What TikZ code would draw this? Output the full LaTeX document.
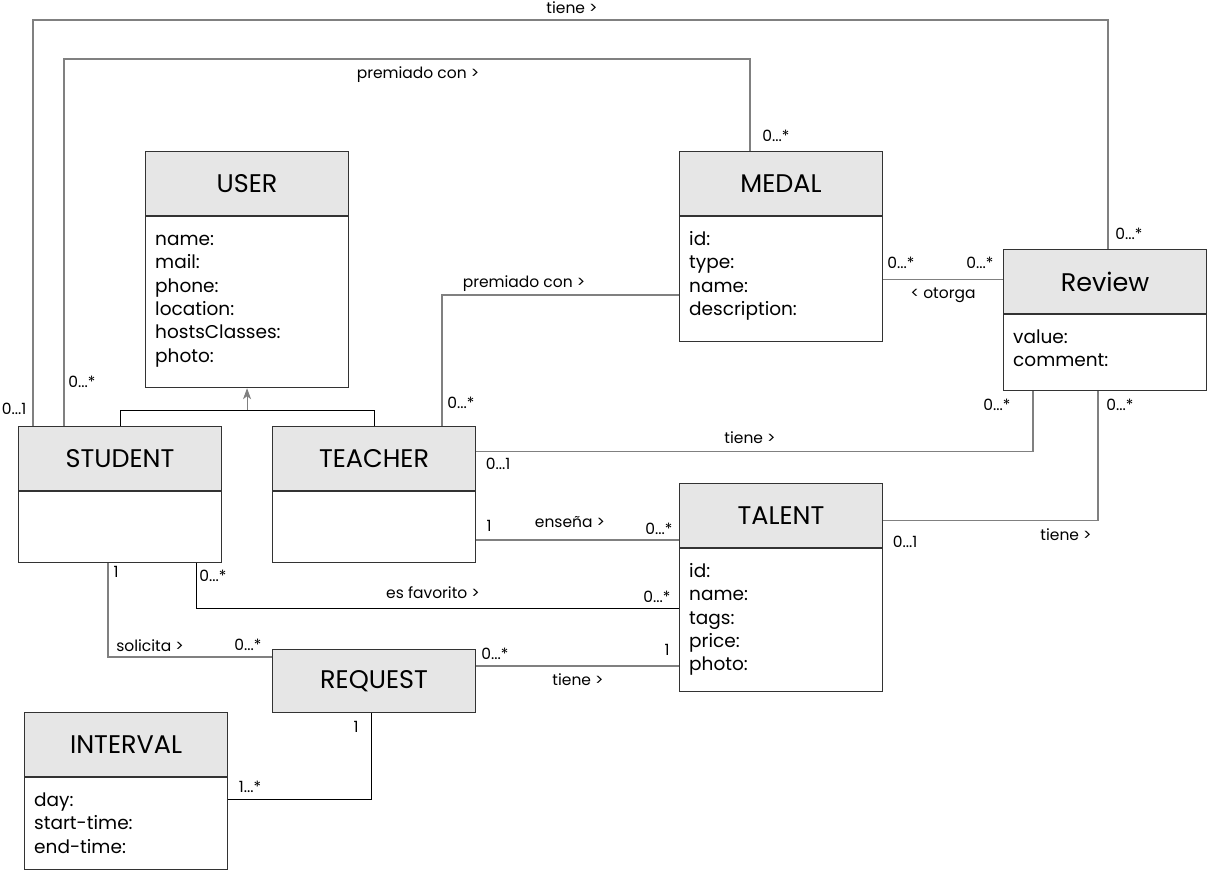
\documentclass[tikz,border=0pt]{standalone}
\usepackage{fontspec}
\setmainfont{Poppins}
\usetikzlibrary{arrows.meta,calc}
\definecolor{hdrc}{HTML}{E6E6E6}
\definecolor{bx}{HTML}{333333}
\definecolor{ln}{HTML}{808080}
\begin{document}
\begin{tikzpicture}[x=1pt,y=-1pt,
  hdr/.style={draw=bx, fill=hdrc, line width=1.1pt, minimum width=203pt, minimum height=64pt, inner sep=0pt, anchor=north west, font=\fontsize{25.5}{30}\selectfont},
  bodyb/.style={draw=bx, line width=1.1pt, minimum width=203pt, anchor=north, inner sep=0pt},
  attr/.style={anchor=north west, align=left, inner sep=0pt, font=\fontsize{18.5}{23.3}\selectfont},
  conn/.style={draw=ln, line width=1.4pt},
  blk/.style={draw=black, line width=1pt},
  lbl/.style={font=\fontsize{15.5}{18}\selectfont, inner sep=0pt},
]
\useasboundingbox (0,0) rectangle (1207,870);

% ---------- classes ----------
\node[hdr] (user) at (145,151) {USER};
\node[bodyb, minimum height=171pt] (userb) at (user.south) {};
\node[attr] (usera) at ($(userb.north west)+(10,13)$) {\strut name:\\mail:\\phone:\\location:\\hostsClasses:\\photo:};

\node[hdr] (medal) at (679,151) {MEDAL};
\node[bodyb, minimum height=125pt] (medalb) at (medal.south) {};
\node[attr] (medala) at ($(medalb.north west)+(10,13)$) {\strut id:\\type:\\name:\\description:};

\node[hdr] (review) at (1003,249) {Review};
\node[bodyb, minimum height=76pt] (reviewb) at (review.south) {};
\node[attr] (reviewa) at ($(reviewb.north west)+(10,13)$) {\strut value:\\comment:};

\node[hdr] (student) at (18,426) {STUDENT};
\node[bodyb, minimum height=71pt] (studentb) at (student.south) {};

\node[hdr] (teacher) at (272,426) {TEACHER};
\node[bodyb, minimum height=71pt] (teacherb) at (teacher.south) {};

\node[hdr] (talent) at (679,483) {TALENT};
\node[bodyb, minimum height=143pt] (talentb) at (talent.south) {};
\node[attr] (talenta) at ($(talentb.north west)+(10,13)$) {\strut id:\\name:\\tags:\\price:\\photo:};

\node[hdr, minimum height=63pt] (request) at (272,649) {REQUEST};

\node[hdr] (interval) at (24,712) {INTERVAL};
\node[bodyb, minimum height=92pt] (intervalb) at (interval.south) {};
\node[attr] (intervala) at ($(intervalb.north west)+(10,13)$) {\strut day:\\start-time:\\end-time:};

% ---------- inheritance ----------
\coordinate (inh) at ($(userb.south)+(0,22)$);
\draw[blk] (student.north) |- (inh);
\draw[blk] (teacher.north) |- (inh);
\draw[draw=ln, line width=1pt, -{Stealth[length=11pt,width=8pt,inset=3pt,fill=ln]}] (inh) -- (userb.south);

% ---------- associations ----------
% Student - Review (tiene, top)
\coordinate (s1) at ($(student.north west)+(15,0)$);
\coordinate (r1) at ($(review.north west)+(105,0)$);
\coordinate (top1) at (0,20);
\draw[conn] (s1) -- (s1 |- top1) -- (r1 |- top1) -- (r1);

% Student - Medal (premiado con)
\coordinate (s2) at ($(student.north west)+(46,0)$);
\coordinate (m2) at ($(medal.north west)+(71,0)$);
\coordinate (top2) at (0,59);
\draw[conn] (s2) -- (s2 |- top2) -- (m2 |- top2) -- (m2);

% Teacher - Medal (premiado con)
\coordinate (t3) at ($(teacher.north west)+(170,0)$);
\coordinate (t3b) at ($(t3)+(0,-131)$);
\draw[conn] (t3) -- (t3b) -- (t3b -| medalb.west);

% Medal - Review (otorga)
\coordinate (r4) at ($(review.west)+(0,-2)$);
\draw[conn] (r4 -| medalb.east) -- (r4);

% Teacher - Review (tiene)
\coordinate (t5) at ($(teacher.east)+(0,-7)$);
\coordinate (r5) at ($(reviewb.south west)+(30,0)$);
\draw[conn] (t5) -- (t5 -| r5) -- (r5);

% Teacher - Talent (enseña)
\coordinate (t6) at ($(teacherb.east)+(0,13)$);
\draw[conn] (t6) -- (t6 -| talent.west);

% Review - Talent (tiene)
\coordinate (r7) at ($(reviewb.south west)+(95,0)$);
\coordinate (tl7) at ($(talent.east)+(0,5)$);
\draw[conn] (r7) -- (r7 |- tl7) -- (tl7);

% Student - Talent (es favorito)
\coordinate (s8) at ($(studentb.south west)+(178,0)$);
\coordinate (s8b) at ($(s8)+(0,45)$);
\draw[blk] (s8) -- (s8b) -- (s8b -| talentb.west);

% Student - Request (solicita)
\coordinate (s9) at ($(studentb.south west)+(90,0)$);
\coordinate (q9) at ($(request.north west)+(0,8)$);
\draw[conn] (s9) -- (s9 |- q9) -- (q9);

% Request - Talent (tiene)
\coordinate (q10) at ($(request.north east)+(0,17)$);
\draw[conn] (q10) -- (q10 -| talentb.west);

% Request - Interval
\coordinate (q11) at ($(request.south west)+(99,0)$);
\coordinate (q11b) at ($(q11)+(0,86)$);
\draw[blk] (q11) -- (q11b) -- (q11b -| intervalb.east);

% ---------- labels ----------
\node[lbl] (l1)  at (572,8)   {tiene >};
\node[lbl] (l2)  at (14,409)  {0...1};
\node[lbl] (l3)  at (1129,234) {0...*};
\node[lbl] (l4)  at (418,75)  {premiado con >};
\node[lbl] (l5)  at (82,382)  {0...*};
\node[lbl] (l6)  at (776,136) {0...*};
\node[lbl] (l7)  at (524,284) {premiado con >};
\node[lbl] (l8)  at (461,403) {0...*};
\node[lbl] (l9)  at (901,263) {0...*};
\node[lbl] (l10) at (980,263) {0...*};
\node[lbl] (l11) at (943,295) {< otorga};
\node[lbl] (l12) at (750,438) {tiene >};
\node[lbl] (l13) at (498,464) {0...1};
\node[lbl] (l14) at (997,405) {0...*};
\node[lbl] (l15) at (1120,405) {0...*};
\node[lbl] (l16) at (1066,535) {tiene >};
\node[lbl] (l17) at (905,542) {0...1};
\node[lbl] (l18) at (489,526) {1};
\node[lbl] (l19) at (570,522) {enseña >};
\node[lbl] (l20) at (659,529) {0...*};
\node[lbl] (l21) at (213,576) {0...*};
\node[lbl] (l22) at (433,593) {es favorito >};
\node[lbl] (l23) at (657,597) {0...*};
\node[lbl] (l24) at (116,572) {1};
\node[lbl] (l25) at (150,646) {solicita >};
\node[lbl] (l26) at (248,645) {0...*};
\node[lbl] (l27) at (495,654) {0...*};
\node[lbl] (l28) at (667,650) {1};
\node[lbl] (l29) at (578,680) {tiene >};
\node[lbl] (l30) at (356,727) {1};
\node[lbl] (l31) at (250,787) {1...*};
\end{tikzpicture}
\end{document}
